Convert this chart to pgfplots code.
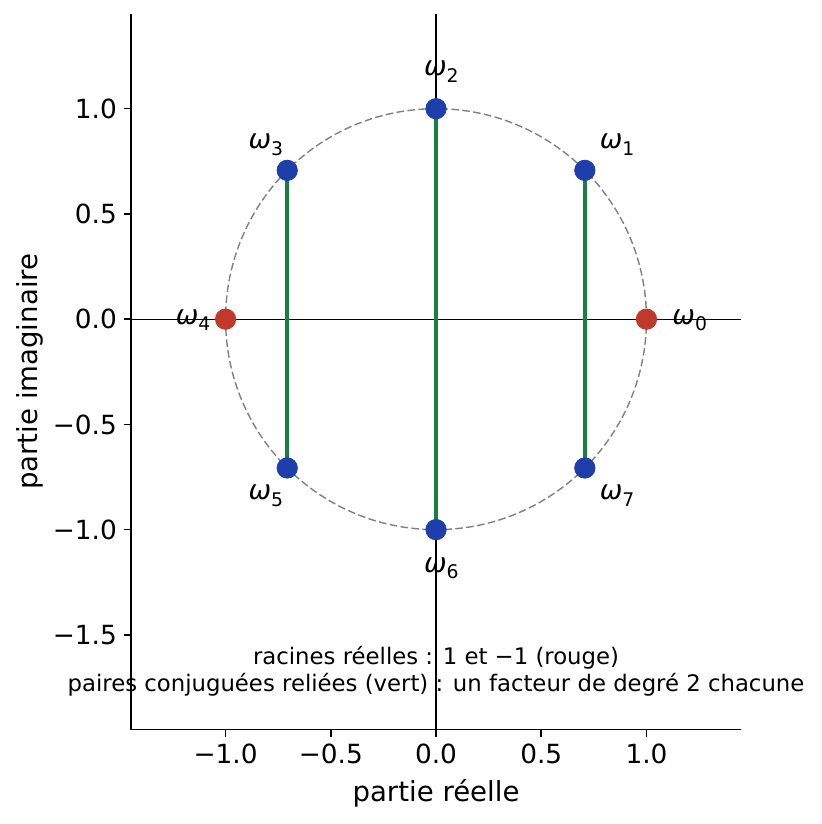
\documentclass[border=0pt]{standalone}
\usepackage{fontspec}
\setmainfont{DejaVu Sans}
\usepackage{pgfplots}
\pgfplotsset{compat=1.18}

\definecolor{rootblue}{RGB}{30,62,172}
\definecolor{rootred}{RGB}{192,57,43}
\definecolor{pairgreen}{RGB}{22,128,62}

% omega label, mathtext-like
\newcommand{\om}[1]{{\fontsize{13.5bp}{13.5bp}\selectfont\textit{ω}\raisebox{-0.24em}{\fontsize{9.4bp}{9.4bp}\selectfont #1}}}

\begin{document}
\begin{tikzpicture}
\begin{axis}[
  scale only axis,
  width=305.4bp, height=358.1bp,
  xmin=-1.45, xmax=1.45, ymin=-1.95, ymax=1.45,
  axis x line*=bottom, axis y line*=left,
  axis line style={line width=0.8bp, black},
  tick align=outside,
  major tick length=3.5bp,
  tick style={line width=0.8bp, black},
  xtick={-1,-0.5,0,0.5,1},
  xticklabels={−1.0,−0.5,0.0,0.5,1.0},
  ytick={-1.5,-1,-0.5,0,0.5,1},
  yticklabels={−1.5,−1.0,−0.5,0.0,0.5,1.0},
  ticklabel style={font=\fontsize{13.2bp}{13.2bp}\selectfont},
  xlabel={partie réelle},
  ylabel={partie imaginaire},
  label style={font=\fontsize{13.8bp}{13.8bp}\selectfont},
  xlabel style={at={(rel axis cs:0.5,0)}, anchor=center, yshift=-31.8bp},
  ylabel style={at={(rel axis cs:0,0.5)}, anchor=center, yshift=50.5bp},
  clip=false,
]
% unit circle
\draw[gray, line width=0.7bp, dash pattern=on 3.8bp off 1.7bp] (axis cs:0,0) circle[radius=1];
% zero lines
\addplot[black, line width=0.55bp] coordinates {(-1.45,0) (1.45,0)};
\addplot[black, line width=0.55bp] coordinates {(0,-1.95) (0,1.45)};
% conjugate pairs
\addplot[pairgreen, line width=1.8bp] coordinates {(0.7071,0.7071) (0.7071,-0.7071)};
\addplot[pairgreen, line width=1.8bp] coordinates {(0,1) (0,-1)};
\addplot[pairgreen, line width=1.8bp] coordinates {(-0.7071,0.7071) (-0.7071,-0.7071)};
% roots
\addplot[only marks, mark=*, mark size=5.1bp, rootblue, mark options={fill=rootblue, draw=rootblue}]
  coordinates {(0.7071,0.7071) (0,1) (-0.7071,0.7071) (-0.7071,-0.7071) (0,-1) (0.7071,-0.7071)};
\addplot[only marks, mark=*, mark size=5.1bp, rootred, mark options={fill=rootred, draw=rootred}]
  coordinates {(1,0) (-1,0)};
% labels at radius 1.18
\begin{scope}[every node/.style={xshift=2.7bp, yshift=-0.5bp}]
\node at (axis cs:1.18,0) {\om{0}};
\node at (axis cs:0.8344,0.8344) {\om{1}};
\node at (axis cs:0,1.18) {\om{2}};
\node at (axis cs:-0.8344,0.8344) {\om{3}};
\node at (axis cs:-1.18,0) {\om{4}};
\node at (axis cs:-0.8344,-0.8344) {\om{5}};
\node at (axis cs:0,-1.18) {\om{6}};
\node at (axis cs:0.8344,-0.8344) {\om{7}};
\end{scope}
\node[anchor=base, inner sep=0pt, font=\fontsize{11.4bp}{11.4bp}\selectfont] at (axis cs:0,-1.642) {racines réelles : 1 et −1 (rouge)};
\node[anchor=base, inner sep=0pt, font=\fontsize{11.4bp}{11.4bp}\selectfont] at (axis cs:0,-1.770) {paires conjuguées reliées (vert) : un facteur de degré 2 chacune};
\end{axis}
\path[use as bounding box] ([shift={(-65.5bp,-47.25bp)}]current axis.south west) rectangle ([shift={(40.1bp,7bp)}]current axis.north east);
\end{tikzpicture}
\end{document}
